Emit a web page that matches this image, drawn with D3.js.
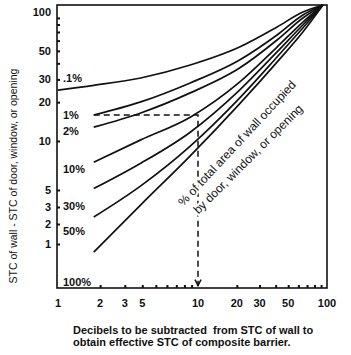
<!DOCTYPE html>
<html>
<head>
<meta charset="utf-8">
<script src="https://cdn.jsdelivr.net/npm/d3@7"></script>
<style>
body { margin: 0; background: #fff; }
text { font-family: "Liberation Sans", Arial, sans-serif; fill: #111; }
</style>
</head>
<body>
<svg id="chart" width="351" height="355"></svg>
<script>
//Data
var xTickVals = [1, 2, 3, 4, 10, 20, 30, 50, 100];
var xTickText = ["1", "2", "3", "5", "10", "20", "30", "50", "100"];
var xMinor = [2, 3, 4, 5, 6, 7, 8, 9, 20, 30, 40, 50, 60, 70, 80, 90];
var yTickVals = [100, 50, 30, 20, 10, 5, 3, 2, 1];
var yMinor = [90, 80, 70, 60, 50, 40, 30, 20, 10, 5, 3, 2, 1];

//Top curve starts at the axis, the rest start at 2
var topX = [1, 1.8, 3.9, 8.8, 21, 41, 65, 93];
var topY = [24.8, 27.0, 30.8, 38.8, 53.5, 76.5, 100, 113];
var fanX = [1.8, 3.9, 8.8, 21, 41, 65, 93];
var curve1 = [15.9, 20.1, 28.2, 42.5, 66.4, 94.8, 113];
var curve2 = [12.8, 16.5, 23.6, 36.8, 60.7, 89.8, 113];
var curve10 = [7.4, 10.2, 15.3, 28.6, 53.5, 83.6, 113];
var curve20 = [5.1, 7.3, 11.7, 24.8, 49.0, 79.3, 113];
var curve30 = [2.36, 5.3, 9.3, 21.5, 44.8, 75.2, 113];
var curve50 = [0.8, 3.2, 8.1, 19.4, 40.9, 69.9, 113];

//Percent labels along the left side
var pctText = [".1%", "1%", "2%", "10%", "30%", "50%", "100%"];
var pctY = [30.8, 15.9, 11.95, 6.73, 3.1, 1.57, 0.353];

//Worked example (dashed)
var exampleX = [1.8, 10, 10];
var exampleY = [15.9, 15.9, 0.32];

var svg = d3.select("#chart");

//Scales (the original axes are hand drawn, so piecewise log)
var x = d3.scaleLog().domain([1, 10, 100]).range([58, 198, 327]);
var y = d3.scaleLog()
    .domain([113, 100, 10, 5, 3, 2, 1, 0.3])
    .range([5, 12, 141, 190, 207, 224, 244, 288]);

//Frame
svg.append("rect")
    .attr("x", x(1) - 1)
    .attr("y", y(113))
    .attr("width", x(100) - x(1) + 1)
    .attr("height", y(0.3) - y(113))
    .attr("fill", "none")
    .attr("stroke", "#111")
    .attr("stroke-width", 1.6);

//Minor ticks
svg.append("g")
    .attr("transform", "translate(0," + y(0.3) + ")")
    .call(d3.axisBottom(x).tickValues(xMinor).tickSize(-3).tickFormat(""))
    .call(g => g.select(".domain").remove())
    .call(g => g.selectAll("line").attr("stroke", "#111").attr("stroke-width", 2));

svg.append("g")
    .attr("transform", "translate(" + (x(1) - 1) + ",0)")
    .call(d3.axisLeft(y).tickValues(yMinor).tickSize(-3).tickFormat(""))
    .call(g => g.select(".domain").remove())
    .call(g => g.selectAll("line").attr("stroke", "#111").attr("stroke-width", 2));

//Tick labels
svg.append("g")
    .selectAll("text")
    .data(xTickVals)
    .join("text")
    .attr("x", d => x(d))
    .attr("y", 307)
    .attr("text-anchor", "middle")
    .attr("font-size", 11)
    .attr("font-weight", "bold")
    .text((d, i) => xTickText[i]);

svg.append("g")
    .selectAll("text")
    .data(yTickVals)
    .join("text")
    .attr("x", 51)
    .attr("y", d => y(d) + 4)
    .attr("text-anchor", "end")
    .attr("font-size", 11)
    .attr("font-weight", "bold")
    .text(d => d);

//Percent labels
svg.append("g")
    .selectAll("text")
    .data(pctY)
    .join("text")
    .attr("x", x(1) + 5)
    .attr("y", d => y(d) + 4)
    .attr("font-size", 11)
    .attr("font-weight", "bold")
    .text((d, i) => pctText[i]);

//Curves
var line = d3.line()
    .x(d => x(d[0]))
    .y(d => y(d[1]))
    .curve(d3.curveMonotoneX);

var curves = [
    d3.zip(topX, topY),
    d3.zip(fanX, curve1),
    d3.zip(fanX, curve2),
    d3.zip(fanX, curve10),
    d3.zip(fanX, curve20),
    d3.zip(fanX, curve30),
    d3.zip(fanX, curve50)
];

svg.append("g")
    .selectAll("path")
    .data(curves)
    .join("path")
    .attr("d", line)
    .attr("fill", "none")
    .attr("stroke", "#111")
    .attr("stroke-width", 1.7);

//Dashed example with arrow
svg.append("path")
    .attr("d", d3.line().x(d => x(d[0])).y(d => y(d[1]))(d3.zip(exampleX, exampleY)))
    .attr("fill", "none")
    .attr("stroke", "#111")
    .attr("stroke-width", 1.5)
    .attr("stroke-dasharray", "6,4");

var ax = x(10), ay = y(0.32);
svg.append("path")
    .attr("d", "M" + (ax - 3) + "," + (ay - 6) + "L" + ax + "," + ay + "L" + (ax + 3) + "," + (ay - 6))
    .attr("fill", "none")
    .attr("stroke", "#111")
    .attr("stroke-width", 1.5);

//Diagonal note (white halo hides the dashed line behind it)
var note = [
    { text: "% of total area of wall occupied", cx: 240, cy: 146, angle: -47 },
    { text: "by door, window, or opening", cx: 251, cy: 162, angle: -45 }
];
svg.append("g")
    .selectAll("text")
    .data(note)
    .join("text")
    .attr("transform", d => "translate(" + d.cx + "," + d.cy + ") rotate(" + d.angle + ")")
    .attr("text-anchor", "middle")
    .attr("font-size", 12)
    .attr("stroke", "#fff")
    .attr("stroke-width", 4)
    .attr("paint-order", "stroke")
    .text(d => d.text);

//Axis titles
svg.append("text")
    .attr("transform", "translate(17,176) rotate(-90)")
    .attr("text-anchor", "middle")
    .attr("font-size", 10.5)
    .text("STC of wall - STC of door, window, or opening");

svg.append("text")
    .attr("x", 73)
    .attr("y", 334)
    .attr("font-size", 11)
    .attr("font-weight", "bold")
    .attr("xml:space", "preserve")
    .text("Decibels to be subtracted  from STC of wall to");

svg.append("text")
    .attr("x", 73)
    .attr("y", 346)
    .attr("font-size", 11)
    .attr("font-weight", "bold")
    .text("obtain effective STC of composite barrier.");
</script>
</body>
</html>
